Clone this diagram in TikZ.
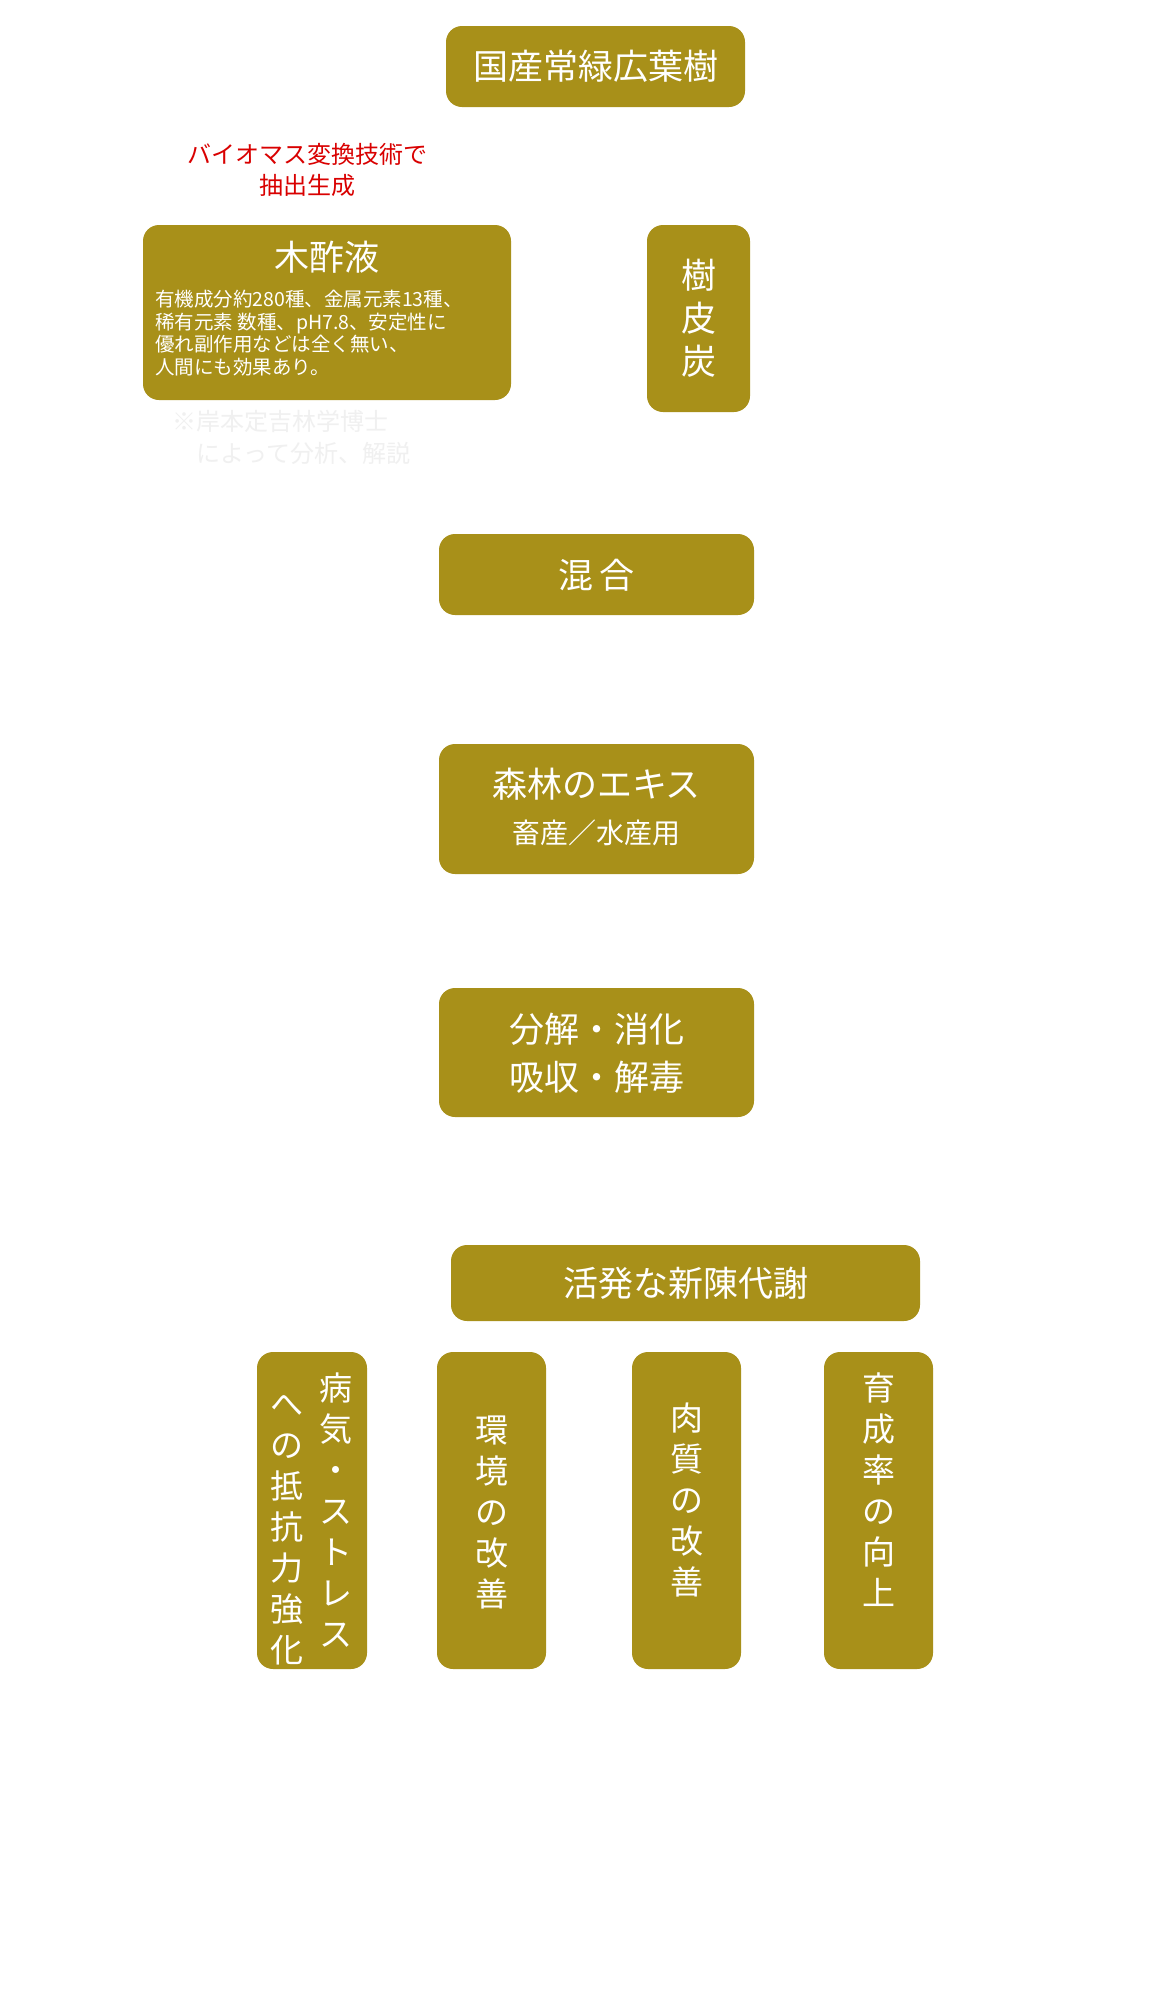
\documentclass[tikz,border=0pt]{standalone}
\usepackage{fontspec}
\setmainfont{Noto Sans CJK JP}
\begin{document}
\begin{tikzpicture}[x=1pt,y=-1pt,
  box/.style={fill=gold,draw=none,rounded corners=16pt,text=white,align=center,inner sep=0pt},
  vt/.style={text=white,align=center,font=\fontsize{33}{41}\selectfont,inner sep=0pt}]
\definecolor{gold}{HTML}{A89019}
\useasboundingbox (0,0) rectangle (1170,2000);
\fill[white] (0,0) rectangle (1170,2000);
% title
\filldraw[box] (446,26) rectangle (745,107);
\node[text=white,font=\fontsize{35}{40}\selectfont] (t) at (595.5,66) {国産常緑広葉樹};
% red
\node[text=red!85!black,align=center,font=\fontsize{24}{31}\selectfont] (r) at (307,170) {バイオマス変換技術で\\抽出生成};
% mokusaku
\filldraw[box] (143,225) rectangle (511,400);
\node[text=white,font=\fontsize{35}{40}\selectfont] (m) at (327,257) {木酢液};
\node[text=white,anchor=north west,align=left,font=\fontsize{19.5}{22.5}\selectfont,inner sep=0pt] (md) at (155,290) {有機成分約280種、金属元素13種、\\稀有元素 数種、pH7.8、安定性に\\優れ副作用などは全く無い、\\人間にも効果あり。};
\node[text=black!6,anchor=north west,align=left,font=\fontsize{24}{32}\selectfont,inner sep=0pt] (note) at (172,410) {※岸本定吉林学博士\\\hspace*{1em}によって分析、解説};
% bark
\filldraw[box] (647,225) rectangle (750,412);
\node[vt,font=\fontsize{35}{43}\selectfont] (b) at (698.5,318) {樹\\皮\\炭};
% mix
\filldraw[box] (439,534) rectangle (754,615);
\node[text=white,font=\fontsize{35}{40}\selectfont] (mx) at (596.5,575) {混\,合};
% extract
\filldraw[box] (439,744) rectangle (754,874);
\node[text=white,font=\fontsize{35}{40}\selectfont] (e1) at (596.5,784) {森林のエキス};
\node[text=white,font=\fontsize{28}{32}\selectfont] (e2) at (596.5,833) {畜産／水産用};
% digest
\filldraw[box] (439,988) rectangle (754,1117);
\node[text=white,align=center,font=\fontsize{35}{48}\selectfont] (d) at (596.5,1053) {分解・消化\\吸収・解毒};
% metabolism
\filldraw[box] (451,1245) rectangle (920,1321);
\node[text=white,font=\fontsize{35}{40}\selectfont] (k) at (685.5,1283) {活発な新陳代謝};
% four
\filldraw[box] (257,1352) rectangle (367,1669);
\node[vt] (a1) at (336,1510) {病\\気\\・\\ス\\ト\\レ\\ス};
\node[vt] (a2) at (287,1530) {へ\\の\\抵\\抗\\力\\強\\化};
\filldraw[box] (437,1352) rectangle (546,1669);
\node[vt] (b1) at (491.5,1512) {環\\境\\の\\改\\善};
\filldraw[box] (632,1352) rectangle (741,1669);
\node[vt] (c1) at (686.5,1500) {肉\\質\\の\\改\\善};
\filldraw[box] (824,1352) rectangle (933,1669);
\node[vt] (d1) at (878.5,1490) {育\\成\\率\\の\\向\\上};
\end{tikzpicture}
\end{document}
